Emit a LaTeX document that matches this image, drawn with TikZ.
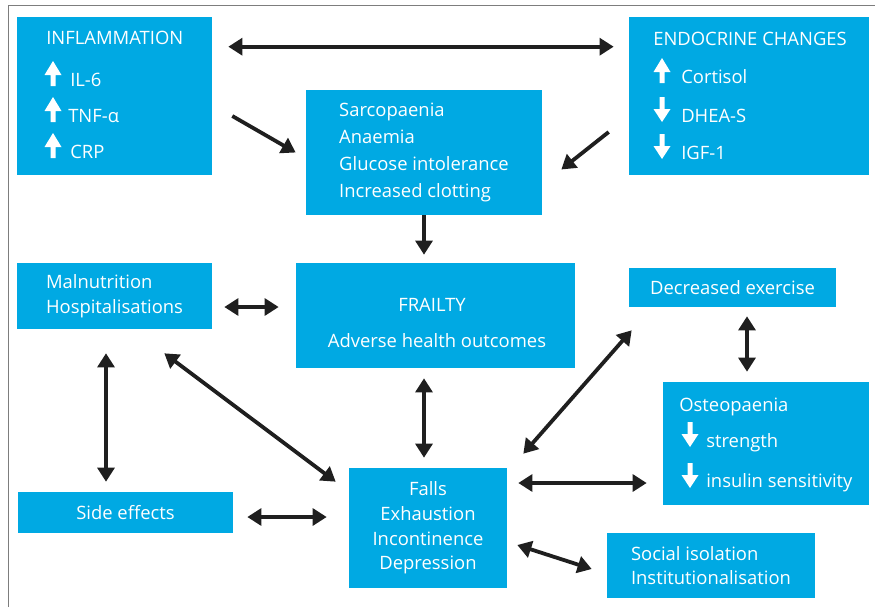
\documentclass[tikz,border=0pt]{standalone}
\usepackage{fontspec}
\setmainfont{Open Sans}
\usetikzlibrary{arrows.meta}
\definecolor{boxblue}{RGB}{0,169,227}
\definecolor{framegray}{RGB}{125,125,125}

\begin{document}
\begin{tikzpicture}[x=0.025cm, y=-0.025cm, >={Triangle[length=10pt,width=12pt]},
  box/.style={fill=boxblue, inner sep=0, text=white, align=left,
    font=\fontsize{13.1}{17.6}\selectfont},
  txt/.style={text=white, inner sep=0, anchor=base west, font=\fontsize{13.1}{17.6}\selectfont},
  ctxt/.style={txt, anchor=base},
  link/.style={<->, line width=2.7pt, draw=black!88},
  uparr/.pic={\fill[white] (-2.5,0) -- (-2.5,-11) -- (-8.5,-11) -- (0,-25)
    -- (8.5,-11) -- (2.5,-11) -- (2.5,0) -- cycle;},
  downarr/.pic={\fill[white] (-2.5,-25) -- (-2.5,-13) -- (-8.5,-13) -- (0,0)
    -- (8.5,-13) -- (2.5,-13) -- (2.5,-25) -- cycle;}]
  \useasboundingbox (0,0) rectangle (875,607);
  \draw[framegray, line width=0.9pt] (8.5,607) -- (8.5,5.5) -- (875,5.5);

  % boxes
  \node[box, minimum width=4.875cm, minimum height=3.95cm] (infl) at (114.5,96) {};
  \node[box, minimum width=6cm, minimum height=3.95cm] (endo) at (749,96) {};
  \node[box, minimum width=5.9cm, minimum height=3.125cm,
    font=\fontsize{13.1}{19}\selectfont] (sarc) at (424,152.5)
    {Sarcopaenia\\Anaemia\\Glucose intolerance\\Increased clotting};
  \node[box, minimum width=4.875cm, minimum height=1.65cm] (maln) at (114.5,296)
    {Malnutrition\\Hospitalisations};
  \node[box, minimum width=6.975cm, minimum height=2.625cm] (frail) at (435.5,315.5) {};
  \node[box, minimum width=5.175cm, minimum height=0.975cm] (exer) at (732.5,287.5)
    {Decreased exercise};
  \node[box, minimum width=5.15cm, minimum height=3.075cm] (osteo) at (766,443.5) {};
  \node[box, minimum width=5.375cm, minimum height=1.025cm] (side) at (125.5,512.5)
    {Side effects};
  \node[box, minimum width=3.95cm, minimum height=3cm, align=center] (falls) at (428,528)
    {Falls\\Exhaustion\\Incontinence\\Depression};
  \node[box, minimum width=5.2cm, minimum height=1.625cm,
    font=\fontsize{13.1}{16.5}\selectfont] (social) at (711,565.5)
    {Social isolation\\Institutionalisation};

  % texts with arrows
  \node[txt] (inflt) at (46,44) {INFLAMMATION};
  \pic at (53,86) {uparr};
  \node[txt] (il) at (70,86) {IL-6};
  \pic at (53,122) {uparr};
  \node[txt] (tnf) at (68,122) {TNF-α};
  \pic at (53,158) {uparr};
  \node[txt] (crp) at (70,158) {CRP};

  \node[txt] (endot) at (653,45) {ENDOCRINE CHANGES};
  \pic at (662,83) {uparr};
  \node[txt] (cort) at (681,83) {Cortisol};
  \pic at (662,122) {downarr};
  \node[txt] (dhea) at (681,122) {DHEA-S};
  \pic at (662,159) {downarr};
  \node[txt] (igf) at (681,159) {IGF-1};

  \node[ctxt] (frailt) at (432,311) {FRAILTY};
  \node[ctxt] (advt) at (437,347) {Adverse health outcomes};

  \node[txt] (osteot) at (679,411) {Osteopaenia};
  \pic at (690,447) {downarr};
  \node[txt] (str) at (706,447) {strength};
  \pic at (690,488) {downarr};
  \node[txt] (ins) at (706,487) {insulin sensitivity};

  % connectors
  \draw[link] ([shift={(16,30)}]infl.north east) -- ([shift={(-15,30)}]endo.north west);
  \draw[link, ->] ([shift={(20,20)}]infl.east) -- ([shift={(-10,0)}]sarc.west);
  \draw[link, ->] ([shift={(-20,36)}]endo.west) -- ([shift={(19,17)}]sarc.east);
  \draw[link, ->] (sarc.south) -- ([shift={(-11.5,-8)}]frail.north);
  \draw[link] ([shift={(12,11)}]maln.east) -- ([shift={(-17,-8.5)}]frail.west);
  \draw[link] ([shift={(-8.5,24)}]maln.south) -- ([shift={(-19.5,-10)}]side.north);
  \draw[link] ([shift={(-48,24)}]maln.south east) -- ([shift={(-13,14)}]falls.north west);
  \draw[link] ([shift={(-11.5,10)}]frail.south) -- ([shift={(-4,-10)}]falls.north);
  \draw[link] ([shift={(16,-14)}]falls.north east) -- ([shift={(3,23)}]exer.south west);
  \draw[link] ([shift={(14.5,9)}]exer.south) -- ([shift={(-19,-10)}]osteo.north);
  \draw[link] ([shift={(11,-45)}]falls.east) -- ([shift={(-16,39.5)}]osteo.west);
  \draw[link] ([shift={(14,4.5)}]side.east) -- ([shift={(-22,-11)}]falls.west);
  \draw[link] ([shift={(10,17)}]falls.east) -- ([shift={(-15,3.5)}]social.west);
\end{tikzpicture}
\end{document}
